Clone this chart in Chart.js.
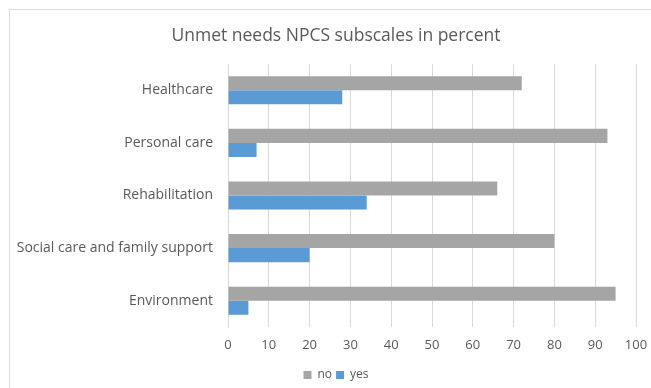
<!DOCTYPE html>
<html><head><meta charset="utf-8">
<script src="https://cdn.jsdelivr.net/npm/chart.js@4/dist/chart.umd.min.js"></script>
<style>
html,body{margin:0;padding:0;background:#fff;overflow:hidden;width:651px;height:388px;}
#frame{position:absolute;left:9px;top:9px;width:700px;height:420px;border:1px solid #d9d9d9;box-sizing:border-box;}
canvas{position:absolute;left:0;top:0;display:block;}
</style></head><body>
<div id="frame"></div>
<canvas id="c" width="672" height="391"></canvas>
<script>
const categories = ["Healthcare", "Personal care", "Rehabilitation", "Social care and family support", "Environment"];
const noValues = [72, 93, 66, 80, 95];
const yesValues = [28, 7, 34, 20, 5];
const xTicks = [0, 10, 20, 30, 40, 50, 60, 70, 80, 90, 100];
const titleText = "Unmet needs NPCS subscales in percent";

const FONT = "'Open Sans', 'Liberation Sans', sans-serif";
new Chart(document.getElementById('c'), {
  type: 'bar',
  data: {
    labels: categories,
    datasets: [
      {label: 'no', data: noValues, backgroundColor: '#a5a5a5', categoryPercentage: 0.535, barPercentage: 1.0},
      {label: 'yes', data: yesValues, backgroundColor: '#5b9bd5', categoryPercentage: 0.535, barPercentage: 1.0}
    ]
  },
  options: {
    indexAxis: 'y',
    responsive: false,
    animation: false,
    layout: {padding: {left: 0, right: 0, top: 0, bottom: 0}},
    scales: {
      x: {
        min: 0, max: 100,
        afterBuildTicks: (s) => { s.ticks = xTicks.map(v => ({value: v})); },
        afterFit: (s) => { s.height = 38; s.paddingRight = 36; s.paddingLeft = 0; },
        grid: {color: '#d9d9d9', drawTicks: false},
        border: {display: false},
        ticks: {color: '#595959', font: {family: FONT, size: 13}, padding: 10}
      },
      y: {
        afterFit: (s) => { s.width = 228; },
        grid: {display: false, drawTicks: false},
        border: {display: true, color: '#d9d9d9', width: 1},
        ticks: {color: '#595959', font: {family: FONT, size: 14}, padding: 15}
      }
    },
    plugins: {
      title: {display: true, text: titleText, color: '#595959', font: {family: FONT, size: 17.5, weight: 'normal'}, padding: {top: 26, bottom: 17}},
      legend: {position: 'bottom', labels: {color: '#595959', font: {family: FONT, size: 12}, boxWidth: 8, boxHeight: 8, padding: 4}},
      tooltip: {enabled: false}
    }
  }
});
</script>
</body></html>
